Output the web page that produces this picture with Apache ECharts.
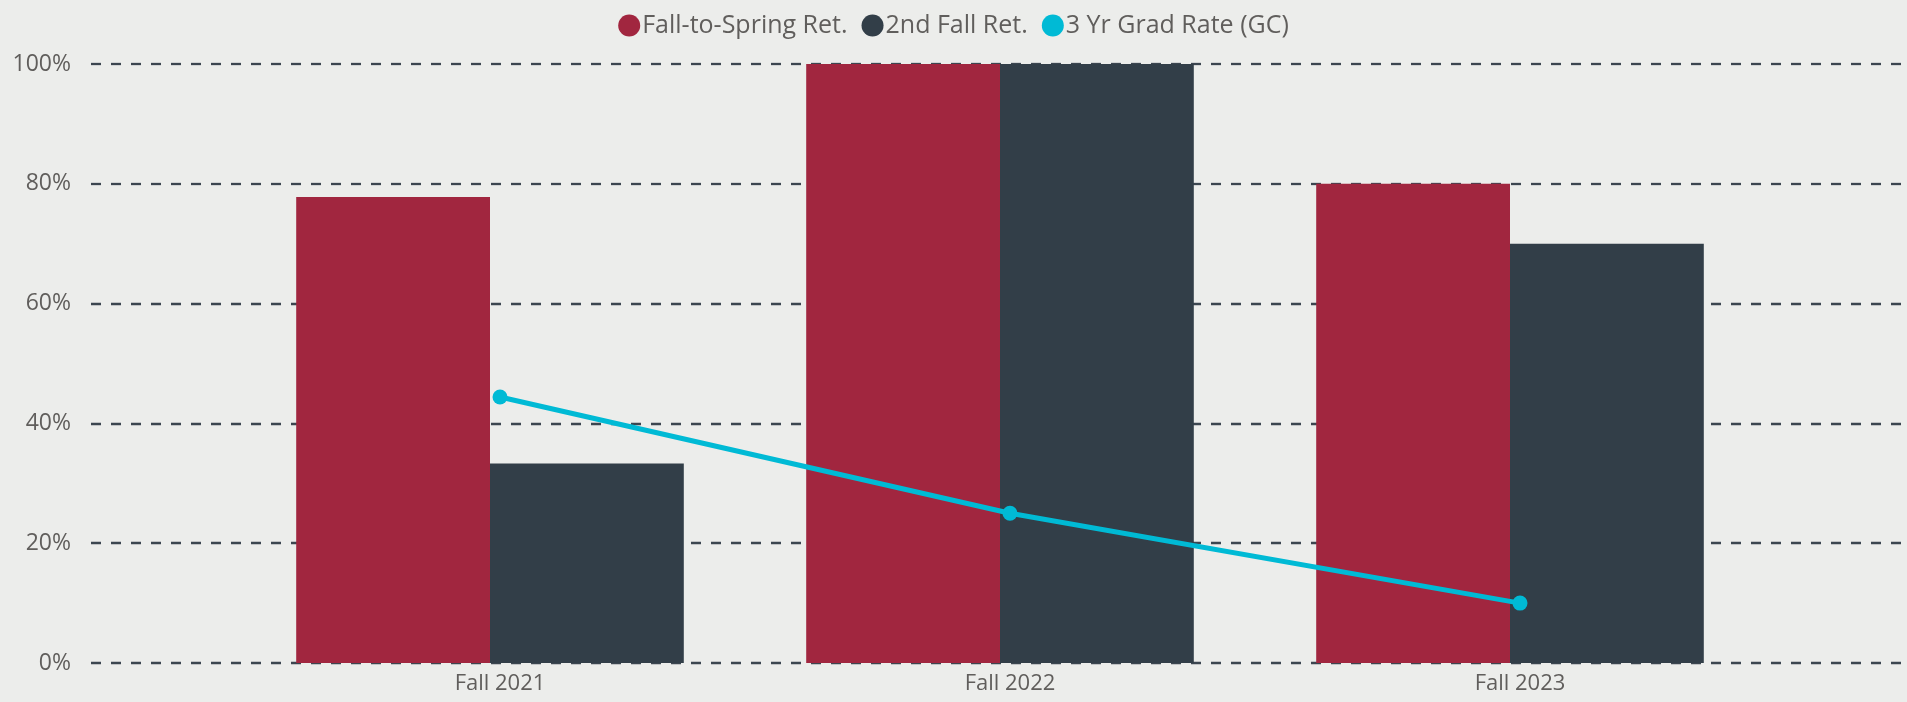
<!DOCTYPE html>
<html>
<head>
<meta charset="utf-8">
<script src="https://cdn.jsdelivr.net/npm/echarts@6/dist/echarts.min.js"></script>
<style>
html, body { margin: 0; padding: 0; background: #ecedeb; }
#main { width: 1907px; height: 702px; }
</style>
</head>
<body>
<div id="main"></div>
<script>
var terms = ['Fall 2021', 'Fall 2022', 'Fall 2023'];
var fallToSpring = [0.778, 1.0, 0.80];
var secondFall = [0.333, 1.0, 0.70];
var gradRate = [0.444, 0.25, 0.10];
var yTicks = [0, 0.2, 0.4, 0.6, 0.8, 1.0];

var chart = echarts.init(document.getElementById('main'));
var font = '"Open Sans", "Noto Sans", sans-serif';

chart.setOption({
    backgroundColor: '#ecedeb',
    textStyle: { fontFamily: font },
    legend: {
        top: 8,
        left: 'center',
        icon: 'circle',
        itemWidth: 22,
        itemHeight: 22,
        itemGap: 14,
        textStyle: { fontSize: 25, color: '#605e5c', fontFamily: font, padding: [0, 0, 0, -3] },
        data: ['Fall-to-Spring Ret.', '2nd Fall Ret.', '3 Yr Grad Rate (GC)']
    },
    grid: [
        // gridline / y-label grid spanning full width
        { left: 91, right: 5, top: 64, bottom: 39 },
        // bars
        { left: 235, right: 142, top: 64, bottom: 39 },
        // line + x labels (sit slightly right of bar centre)
        { left: 245, right: 132, top: 64, bottom: 39 }
    ],
    xAxis: [
        { gridIndex: 0, type: 'category', data: terms, show: false },
        { gridIndex: 1, type: 'category', data: terms, show: false },
        {
            gridIndex: 2, type: 'category', data: terms,
            axisLine: { show: false }, axisTick: { show: false },
            axisLabel: { fontSize: 22, color: '#605e5c', margin: 10, fontFamily: font }
        }
    ],
    yAxis: [
        {
            gridIndex: 0, type: 'value', min: 0, max: 1, interval: 0.2,
            axisLine: { show: false }, axisTick: { show: false },
            axisLabel: {
                fontSize: 23, color: '#605e5c', margin: 20, fontFamily: font,
                formatter: function (v) {
                    return yTicks.indexOf(Math.round(v * 10) / 10) >= 0 ? Math.round(v * 100) + '%' : '';
                }
            },
            splitLine: { lineStyle: { color: '#3c4650', width: 2.3, type: [10, 10] } }
        },
        { gridIndex: 1, type: 'value', min: 0, max: 1, show: false, splitLine: { show: false } },
        { gridIndex: 2, type: 'value', min: 0, max: 1, show: false, splitLine: { show: false } }
    ],
    series: [
        {
            name: 'Fall-to-Spring Ret.',
            type: 'bar',
            xAxisIndex: 1, yAxisIndex: 1,
            barGap: 0,
            barCategoryGap: '24%',
            itemStyle: { color: '#a1263f' },
            data: fallToSpring
        },
        {
            name: '2nd Fall Ret.',
            type: 'bar',
            xAxisIndex: 1, yAxisIndex: 1,
            itemStyle: { color: '#323e48' },
            data: secondFall
        },
        {
            name: '3 Yr Grad Rate (GC)',
            type: 'line',
            xAxisIndex: 2, yAxisIndex: 2,
            symbol: 'circle',
            symbolSize: 15,
            lineStyle: { color: '#00bad5', width: 5 },
            itemStyle: { color: '#00bad5' },
            z: 5,
            data: gradRate
        }
    ]
});
</script>
</body>
</html>
